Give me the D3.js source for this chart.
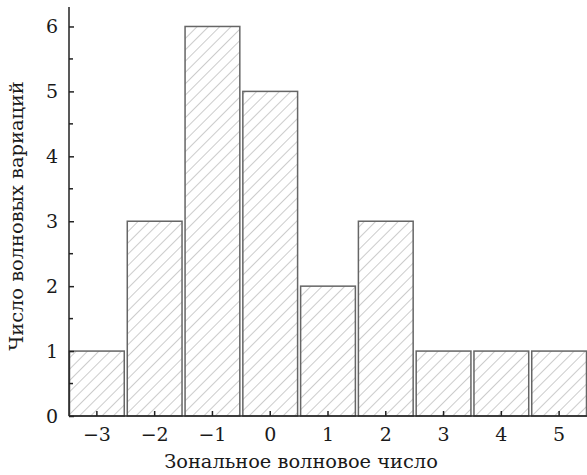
<!DOCTYPE html>
<html>
<head>
<meta charset="utf-8">
<script src="https://cdn.jsdelivr.net/npm/d3@7"></script>
<style>
  body { margin: 0; background: #fff; }
  svg text { font-family: "DejaVu Serif", "Liberation Serif", serif !important; fill: #1a1a1a; }
</style>
</head>
<body>
<div id="chart"></div>
<script>
const waveNumbers = [-3, -2, -1, 0, 1, 2, 3, 4, 5];
const variationCounts = [1, 3, 6, 5, 2, 3, 1, 1, 1];
const yTicks = [0, 1, 2, 3, 4, 5, 6];
const yMinorTicks = [0.5, 1.5, 2.5, 3.5, 4.5, 5.5];

const margin = { top: 7, right: 0, bottom: 59, left: 69 };
const width = 587 - margin.left - margin.right;
const height = 475 - margin.top - margin.bottom;

const svg = d3
  .select("#chart")
  .append("svg")
  .attr("width", 587)
  .attr("height", 475);

const defs = svg.append("defs");
const hatch = defs
  .append("pattern")
  .attr("id", "hatch")
  .attr("patternUnits", "userSpaceOnUse")
  .attr("width", 8)
  .attr("height", 8)
  .attr("patternTransform", "rotate(45)");
hatch
  .append("line")
  .attr("x1", 0)
  .attr("y1", 0)
  .attr("x2", 0)
  .attr("y2", 8)
  .attr("stroke", "#9a9a9a")
  .attr("stroke-width", 1);

const g = svg
  .append("g")
  .attr("transform", `translate(${margin.left}, ${margin.top})`);

const x = d3
  .scaleBand()
  .domain(waveNumbers)
  .range([0, width])
  .paddingInner(0.035)
  .paddingOuter(0.0);

const y = d3.scaleLinear().domain([0, 6.3]).range([height, 0]);

// bars
g.selectAll("rect.bar")
  .data(waveNumbers)
  .join("rect")
  .attr("class", "bar")
  .attr("x", (d) => x(d) + 0.5)
  .attr("y", (d, i) => y(variationCounts[i]))
  .attr("width", x.bandwidth() - 1)
  .attr("height", (d, i) => height - y(variationCounts[i]))
  .attr("fill", "url(#hatch)")
  .attr("stroke", "#666")
  .attr("stroke-width", 1.5);

// y axis
const yAxis = g
  .append("g")
  .call(
    d3
      .axisLeft(y)
      .tickValues(yTicks)
      .tickSize(-5)
      .tickPadding(11)
      .tickFormat(d3.format("d"))
  );
yAxis.select(".domain").attr("d", `M0,0V${height}`).attr("stroke", "#222").attr("stroke-width", 1.5);
yAxis.selectAll(".tick line").attr("stroke", "#222").attr("stroke-width", 1.5);
yAxis.selectAll(".tick text").style("font-size", "19px");

g.append("g")
  .selectAll("line")
  .data(yMinorTicks)
  .join("line")
  .attr("x1", 0)
  .attr("x2", 4)
  .attr("y1", (d) => y(d))
  .attr("y2", (d) => y(d))
  .attr("stroke", "#222")
  .attr("stroke-width", 1.5);

// x axis
const xAxis = g
  .append("g")
  .attr("transform", `translate(0, ${height})`)
  .call(
    d3
      .axisBottom(x)
      .tickSize(-5)
      .tickPadding(12)
      .tickFormat((d) => (d < 0 ? "\u2212" + Math.abs(d) : d))
  );
xAxis.select(".domain").attr("d", `M0,0H${width}`).attr("stroke", "#222").attr("stroke-width", 1.5);
xAxis.selectAll(".tick line").attr("stroke", "#222").attr("stroke-width", 1.5);
xAxis.selectAll(".tick text").style("font-size", "19px");

// titles
svg
  .append("text")
  .attr("x", 301)
  .attr("y", 468)
  .attr("text-anchor", "middle")
  .style("font-size", "19.4px")
  .text("Зональное волновое число");

svg
  .append("text")
  .attr("transform", "translate(23, 216) rotate(-90)")
  .attr("text-anchor", "middle")
  .style("font-size", "19.4px")
  .text("Число волновых вариаций");
</script>
</body>
</html>
